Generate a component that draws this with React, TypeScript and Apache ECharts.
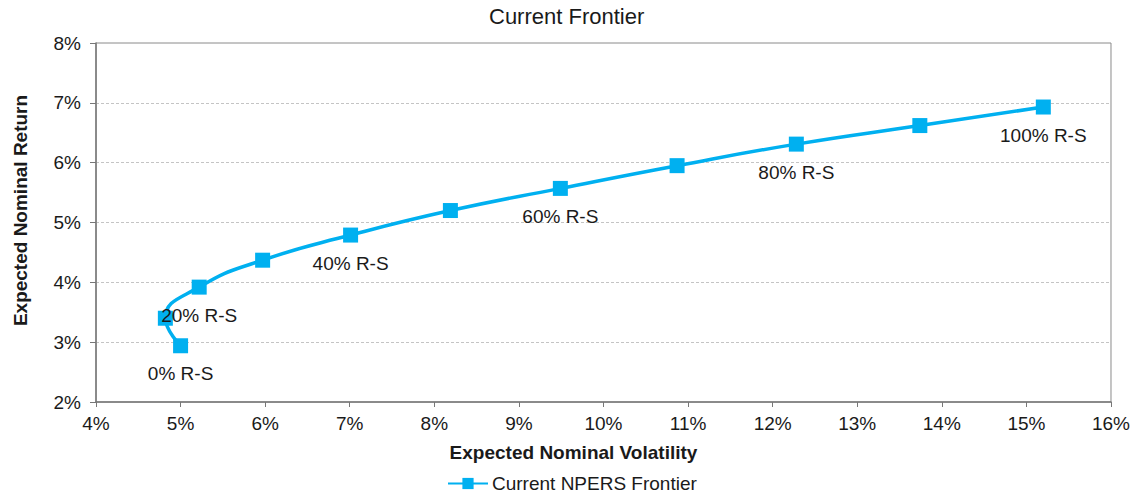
import React, { useEffect, useRef } from "react";
import * as echarts from "echarts";

// Efficient frontier points: expected volatility (%) vs expected return (%)
const volatility = [5.0, 4.82, 5.22, 5.97, 7.01, 8.19, 9.49, 10.87, 12.28, 13.74, 15.2];
const expectedReturn = [2.94, 3.4, 3.92, 4.37, 4.79, 5.2, 5.57, 5.95, 6.31, 6.62, 6.93];
const pointLabels = ["0% R-S", "", "20% R-S", "", "40% R-S", "", "60% R-S", "", "80% R-S", "", "100% R-S"];

const seriesName = "Current NPERS Frontier";
const chartTitle = "Current Frontier";
const xAxisName = "Expected Nominal Volatility";
const yAxisName = "Expected Nominal Return";

const FONT = "'Liberation Sans', Arial, sans-serif";
const BLUE = "#00b0f0";
const TEXT = "#1a1a1a";

export default function App() {
  const ref = useRef<HTMLDivElement>(null);

  useEffect(() => {
    if (!ref.current) return;
    const chart = echarts.init(ref.current, null, { renderer: "svg" });

    const data = volatility.map((v, i) => ({
      value: [v, expectedReturn[i]],
      label: { show: pointLabels[i] !== "", formatter: pointLabels[i] },
    }));

    chart.setOption({
      animation: false,
      backgroundColor: "#ffffff",
      textStyle: { fontFamily: FONT },
      title: {
        text: chartTitle,
        left: 489,
        top: 5,
        padding: 0,
        textStyle: { fontFamily: FONT, fontSize: 22, fontWeight: "normal", color: TEXT },
      },
      legend: {
        data: [seriesName],
        left: 447,
        top: 474,
        padding: 0,
        itemWidth: 40,
        itemHeight: 14,
        itemGap: 4,
        textStyle: { fontFamily: FONT, fontSize: 19, color: TEXT, padding: [0, 0, 0, -1] },
      },
      grid: {
        left: 96,
        right: 18,
        top: 43,
        bottom: 94,
        show: true,
        borderColor: "#8a8a8a",
        borderWidth: 1,
      },
      xAxis: {
        type: "value",
        min: 4,
        max: 16,
        interval: 1,
        name: xAxisName,
        nameLocation: "middle",
        nameGap: 41,
        nameTextStyle: {
          fontFamily: FONT,
          fontSize: 19,
          fontWeight: "bold",
          color: TEXT,
          padding: [0, 60, 0, 0],
        },
        axisLine: { show: true, lineStyle: { color: "#777777", width: 1.5 } },
        axisTick: { show: true, length: 5, lineStyle: { color: "#777777" } },
        axisLabel: {
          formatter: "{value}%",
          fontFamily: FONT,
          fontSize: 19,
          color: TEXT,
          margin: 12,
        },
        splitLine: { show: false },
      },
      yAxis: {
        type: "value",
        min: 2,
        max: 8,
        interval: 1,
        name: yAxisName,
        nameLocation: "middle",
        nameGap: 66,
        nameTextStyle: {
          fontFamily: FONT,
          fontSize: 19,
          fontWeight: "bold",
          color: TEXT,
          padding: [0, 0, 0, 24],
        },
        axisLine: { show: true, lineStyle: { color: "#777777", width: 1.5 } },
        axisTick: { show: true, length: 6, lineStyle: { color: "#777777" } },
        axisLabel: {
          formatter: "{value}%",
          fontFamily: FONT,
          fontSize: 19,
          color: TEXT,
          margin: 15,
        },
        splitLine: { show: true, lineStyle: { color: "#c4c4c4", type: [3, 2], width: 1 } },
      },
      series: [
        {
          name: seriesName,
          type: "line",
          data,
          smooth: 0.5,
          symbol: "rect",
          symbolSize: 15,
          showAllSymbol: true,
          lineStyle: { color: BLUE, width: 3.5 },
          itemStyle: { color: BLUE },
          label: {
            position: "bottom",
            distance: 11,
            fontFamily: FONT,
            fontSize: 19,
            color: TEXT,
          },
          emphasis: { disabled: true },
        },
      ],
    });

    return () => chart.dispose();
  }, []);

  return (
    <div
      ref={ref}
      style={{ position: "fixed", left: 0, top: 0, width: 1133, height: 496, background: "#fff" }}
    />
  );
}
